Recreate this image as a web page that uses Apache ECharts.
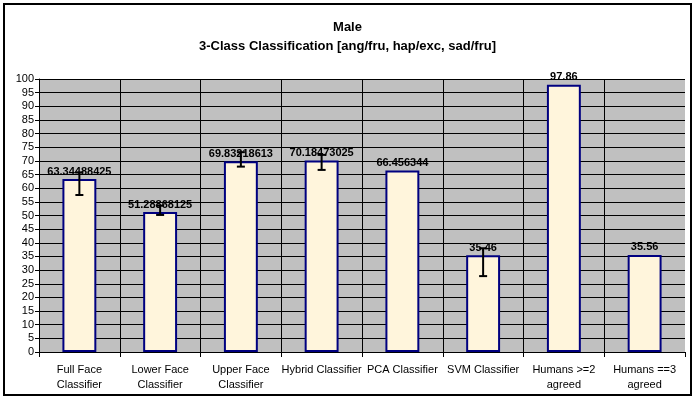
<!DOCTYPE html>
<html>
<head>
<meta charset="utf-8">
<title>Male 3-Class Classification</title>
<script src="https://cdn.jsdelivr.net/npm/echarts@6/dist/echarts.min.js"></script>
<style>
  html, body { margin: 0; padding: 0; background: #fff; }
  #box { width: 695px; height: 401px; }
</style>
</head>
<body>
<div id="box"></div>
<script>
// categories along the x axis
var categories = ['Full Face\nClassifier', 'Lower Face\nClassifier', 'Upper Face\nClassifier',
  'Hybrid Classifier', 'PCA Classifier', 'SVM Classifier', 'Humans >=2\nagreed', 'Humans ==3\nagreed'];
// bar heights (also shown as labels)
var values = [63.34488425, 51.28868125, 69.83218613, 70.18473025, 66.456344, 35.46, 97.86, 35.56];
// error bar ends (null = no error bar)
var errHigh = [65.8, 53.6, 73.2, 72.2, null, 38.0, null, null];
var errLow = [57.5, 50.2, 67.9, 66.7, null, 27.8, null, null];

var errData = [];
for (var i = 0; i < categories.length; i++) {
  if (errHigh[i] != null) errData.push([i, errLow[i], errHigh[i]]);
}

var myChart = echarts.init(document.getElementById('box'));
var font = 'Arial, "Liberation Sans", sans-serif';

var option = {
  animation: false,
  backgroundColor: '#ffffff',
  title: {
    text: 'Male\n3-Class Classification [ang/fru, hap/exc, sad/fru]',
    left: 'center',
    top: 13,
    textStyle: { fontFamily: font, fontSize: 13, fontWeight: 'bold', color: '#000', lineHeight: 19, align: 'center' }
  },
  graphic: [{
    type: 'rect',
    shape: { x: 4, y: 4, width: 687, height: 391 },
    style: { fill: null, stroke: '#000', lineWidth: 2 },
    silent: true
  }],
  grid: {
    left: 39, right: 10, top: 79, bottom: 49,
    show: true, backgroundColor: '#C0C0C0', borderWidth: 0
  },
  xAxis: {
    type: 'category',
    data: categories,
    axisLine: { show: true, lineStyle: { color: '#000', width: 1 } },
    axisTick: { show: true, length: 5, lineStyle: { color: '#000' } },
    splitLine: { show: true, showMaxLine: false, lineStyle: { color: '#000', width: 1 } },
    axisLabel: { fontFamily: font, fontSize: 11, color: '#000', lineHeight: 15, margin: 10, interval: 0 }
  },
  yAxis: {
    type: 'value',
    min: 0, max: 100, interval: 5,
    axisLine: { show: true, lineStyle: { color: '#000', width: 1 } },
    axisTick: { show: true, length: 4, lineStyle: { color: '#000' } },
    splitLine: { show: true, lineStyle: { color: '#000', width: 1 } },
    axisLabel: { fontFamily: font, fontSize: 11, color: '#000', margin: 5 }
  },
  series: [{
    type: 'bar',
    data: values,
    barWidth: '42%',
    itemStyle: { color: '#FFF5DC', borderColor: '#000080', borderWidth: 2 },
    label: {
      show: true, position: 'top', distance: 2,
      fontFamily: font, fontSize: 11, fontWeight: 'bold', color: '#000',
      formatter: function (p) { return String(p.value); }
    }
  }, {
    type: 'custom',
    data: errData,
    z: 10,
    renderItem: function (params, api) {
      var x = api.value(0);
      var lo = api.coord([x, api.value(1)]);
      var hi = api.coord([x, api.value(2)]);
      var cap = 4;
      var st = { stroke: '#000', lineWidth: 2 };
      return {
        type: 'group',
        children: [
          { type: 'line', shape: { x1: hi[0], y1: hi[1], x2: lo[0], y2: lo[1] }, style: st },
          { type: 'line', shape: { x1: hi[0] - cap, y1: hi[1], x2: hi[0] + cap, y2: hi[1] }, style: st },
          { type: 'line', shape: { x1: lo[0] - cap, y1: lo[1], x2: lo[0] + cap, y2: lo[1] }, style: st }
        ]
      };
    }
  }]
};
myChart.setOption(option);
</script>
</body>
</html>
